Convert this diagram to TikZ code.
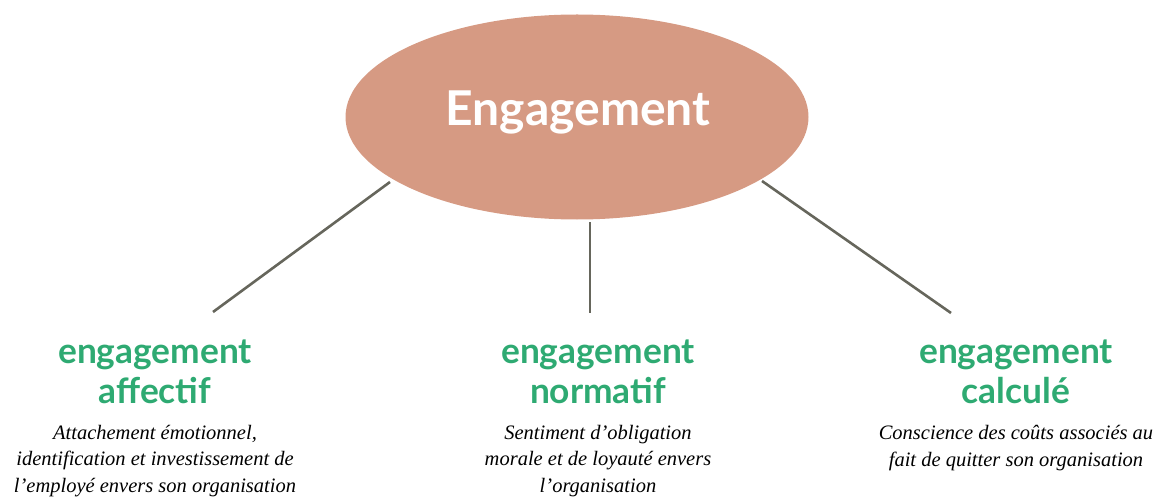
\documentclass[tikz,border=0pt]{standalone}
\usepackage{fontspec}
\usetikzlibrary{shapes.geometric}
\setmainfont{Liberation Serif}
\newfontfamily\latofont{Lato}
\definecolor{ellfill}{RGB}{214,154,131}
\definecolor{labgreen}{RGB}{46,170,114}
\definecolor{linegray}{RGB}{102,102,92}
\tikzset{
  conn/.style={draw=linegray, line width=2.6pt},
  lab/.style={text=labgreen, font=\latofont\bfseries\fontsize{35.3}{40}\selectfont, align=center, inner sep=0pt},
  desc/.style={font=\itshape\fontsize{20.5}{26.5}\selectfont, align=center, inner sep=0pt, text=black}
}
\begin{document}
\begin{tikzpicture}[x=1pt,y=-1pt]
\useasboundingbox (0,0) rectangle (1153,497);
\node[ellipse, fill=ellfill, minimum width=463pt, minimum height=205pt, inner sep=0pt] (root) at (577,117) {};
\node[text=white, font=\latofont\bfseries\fontsize{48}{56}\selectfont, inner sep=0pt] (title) at (578,112) {Engagement};
\coordinate (l1) at (213,312);
\coordinate (l2) at (590,313);
\coordinate (l3) at (951,313);
\draw[conn] (390,182) coordinate (s1) -- (l1);
\draw[conn] (590,222) coordinate (s2) -- (l2);
\draw[conn] (762,181) coordinate (s3) -- (l3);
\node[lab] (a) at (155,372) {engagement\\affectif};
\node[lab] (b) at (598,372) {engagement\\normatif};
\node[lab] (c) at (1016,372) {engagement\\calculé};
\node[desc] (da) at (155,461) {Attachement émotionnel,\\identification et investissement de\\l’employé envers son organisation};
\node[desc] (db) at (598,461) {Sentiment d’obligation\\morale et de loyauté envers\\l’organisation};
\node[desc] (dc) at (1016,448) {Conscience des coûts associés au\\fait de quitter son organisation};
\end{tikzpicture}
\end{document}
